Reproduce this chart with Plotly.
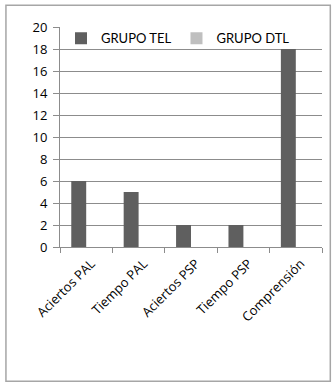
import plotly.graph_objects as go

categories = ["Aciertos PAL", "Tiempo PAL", "Aciertos PSP", "Tiempo PSP", "Comprensión"]
tel_values = [6, 5, 2, 2, 18]
dtl_values = [0, 0, 0, 0, 0]
y_ticks = [0, 2, 4, 6, 8, 10, 12, 14, 16, 18, 20]

FONT = "'Open Sans', Lato, sans-serif"

fig = go.Figure()
fig.add_trace(go.Bar(x=categories, y=tel_values, name="GRUPO TEL",
                     marker=dict(color="#5f5f5f", line=dict(width=0))))
fig.add_trace(go.Bar(x=categories, y=dtl_values, name="GRUPO DTL",
                     marker=dict(color="#bfbfbf", line=dict(width=0))))

L, R, T, B = 60, 10.3, 26.7, 136.3
pw = 332 - L - R
ph = 383 - T - B

def px_x(x):
    return (x - L) / pw

def px_y(y):
    return (383 - B - y) / ph

fig.update_layout(
    width=332, height=383,
    margin=dict(l=L, r=R, t=T, b=B, pad=0),
    paper_bgcolor="white", plot_bgcolor="white",
    barmode="group", bargap=0.43, bargroupgap=0,
    font=dict(family=FONT, size=13, color="#000000"),
    showlegend=True,
    legend=dict(orientation="h", x=px_x(61), y=px_y(38), xanchor="left", yanchor="middle",
                font=dict(family="Lato, sans-serif", size=13, color="#000000"),
                bgcolor="rgba(0,0,0,0)", itemwidth=30, traceorder="normal"),
    xaxis=dict(type="category", tickangle=-45, showgrid=False,
               showline=True, linecolor="#8c8c8c", linewidth=1,
               ticks="outside", ticklen=5, tickcolor="#8c8c8c",
               tickson="boundaries", ticklabelshift=5, ticklabelstandoff=3,
               tickfont=dict(family=FONT, size=13, color="#000000")),
    yaxis=dict(range=[0, 20], tickvals=y_ticks, showgrid=True, gridcolor="#8c8c8c", gridwidth=1,
               showline=True, linecolor="#8c8c8c", linewidth=1,
               ticks="outside", ticklen=6, tickcolor="#8c8c8c",
               zeroline=False, ticklabelstandoff=3,
               tickfont=dict(family=FONT, size=13, color="#000000")),
    shapes=[dict(type="rect", xref="paper", yref="paper",
                 x0=px_x(6), x1=px_x(330), y0=px_y(381), y1=px_y(5),
                 line=dict(color="#a6a6a6", width=1.5), fillcolor="rgba(0,0,0,0)", layer="below")],
)

fig.write_html("out.html")
